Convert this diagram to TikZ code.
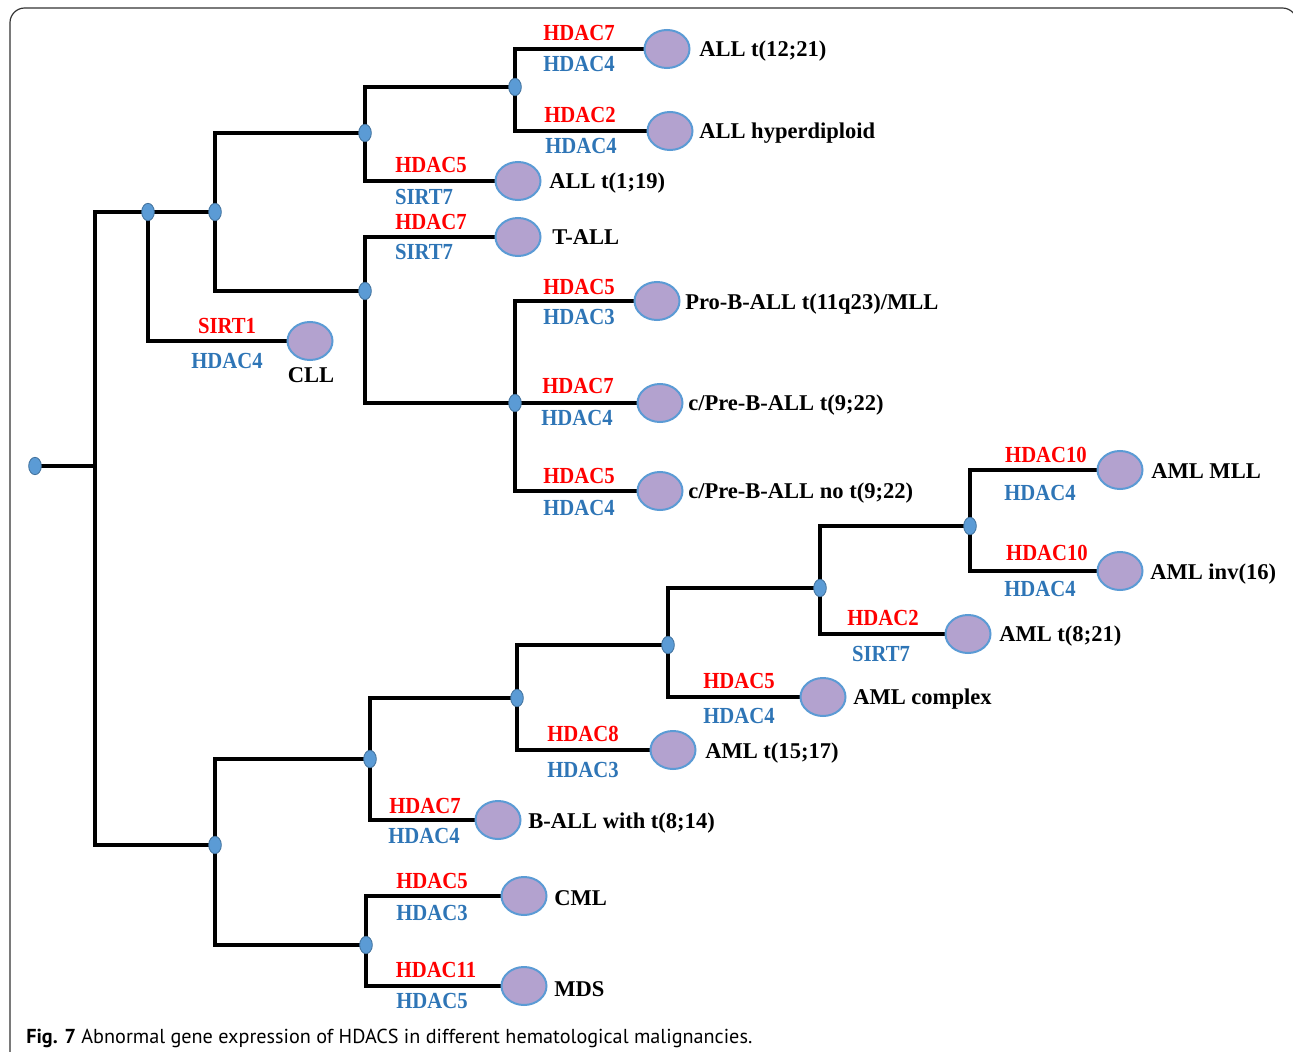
\documentclass[tikz,border=0pt]{standalone}
\usepackage{fontspec}
\setmainfont{Liberation Serif}
\newfontfamily\labf[FakeStretch=0.9]{Liberation Serif}
\newfontfamily\capf{PT Sans}
\usetikzlibrary{shapes.geometric,backgrounds}
\definecolor{redl}{HTML}{FF0000}
\definecolor{bluel}{HTML}{2E75B6}
\definecolor{ellfill}{HTML}{B3A2CF}
\definecolor{elledge}{HTML}{5B9BD5}
\definecolor{dotfill}{HTML}{5B9BD5}
\definecolor{dotedge}{HTML}{41719C}
\tikzset{
 leaf/.style={ellipse, draw=elledge, fill=ellfill, line width=1.5pt, minimum width=33.75pt, minimum height=28.5pt, inner sep=0pt},
 bdot/.style={ellipse, draw=dotedge, fill=dotfill, line width=0.6pt, minimum width=9.5pt, minimum height=13pt, inner sep=0pt},
 br/.style={line width=3.2pt, line join=miter, draw=black},
 dname/.style={anchor=base west, inner sep=0pt, font=\bfseries\fontsize{16.9pt}{20pt}\selectfont},
 redlab/.style={anchor=base, inner sep=0pt, text=redl, font=\labf\bfseries\fontsize{17.25pt}{20pt}\selectfont},
 bluelab/.style={anchor=base, inner sep=0pt, text=bluel, font=\labf\bfseries\fontsize{17.25pt}{20pt}\selectfont},
}
\begin{document}
\begin{tikzpicture}[x=0.75pt,y=-0.75pt]
\useasboundingbox (0,0) rectangle (1293,1052);
\begin{scope}
\clip (0,0) rectangle (1293,1052);
\draw[rounded corners=11pt, line width=0.9pt, black!80] (10,8) rectangle (1297,1080);
\end{scope}
% junction dots
\node[bdot] (r) at (35,466) {};
\coordinate (j0) at (95,466);
\node[bdot] (A) at (148,212) {};
\node[bdot] (B) at (215,212) {};
\node[bdot] (C) at (365,133) {};
\node[bdot] (D) at (365,291) {};
\node[bdot] (E) at (515,87) {};
\node[bdot] (F) at (515,403) {};
\node[bdot] (G) at (215,845) {};
\node[bdot] (H) at (370,759) {};
\node[bdot] (I) at (366,945) {};
\node[bdot] (J) at (517,698) {};
\node[bdot] (K) at (668,645) {};
\node[bdot] (M) at (820,588) {};
\node[bdot] (N) at (970,526) {};
% leaves
\node[leaf] (l1) at (667,49) {};
\node[leaf] (l2) at (670,131) {};
\node[leaf] (l3) at (518,181) {};
\node[leaf] (l4) at (518,237) {};
\node[leaf] (l5) at (310,341) {};
\node[leaf] (l6) at (657,301) {};
\node[leaf] (l7) at (660,403) {};
\node[leaf] (l8) at (660,491) {};
\node[leaf] (l9) at (1120,470) {};
\node[leaf] (l10) at (1120,571) {};
\node[leaf] (l11) at (968,634) {};
\node[leaf] (l12) at (823,697) {};
\node[leaf] (l13) at (673,750) {};
\node[leaf] (l14) at (498,820) {};
\node[leaf] (l15) at (524,896) {};
\node[leaf] (l16) at (524,986) {};
% branches
\begin{scope}[on background layer]
\draw[br] (r.center) -- (j0);
\draw[br] (j0) |- (A.center);
\draw[br] (j0) |- (G.center);
\draw[br] (A.center) -- (B.center);
\draw[br] (A.center) |- (l5.west);
\draw[br] (B.center) |- (C.center);
\draw[br] (B.center) |- (D.center);
\draw[br] (C.center) |- (E.center);
\draw[br] (C.center) |- (l3.west);
\draw[br] (E.center) |- (l1.west);
\draw[br] (E.center) |- (l2.west);
\draw[br] (D.center) |- (l4.west);
\draw[br] (D.center) |- (F.center);
\draw[br] (F.center) |- (l6.west);
\draw[br] (F.center) -- (l7.west);
\draw[br] (F.center) |- (l8.west);
\draw[br] (G.center) |- (H.center);
\draw[br] (G.center) |- (I.center);
\draw[br] (H.center) |- (J.center);
\draw[br] (H.center) |- (l14.west);
\draw[br] (J.center) |- (K.center);
\draw[br] (J.center) |- (l13.west);
\draw[br] (K.center) |- (M.center);
\draw[br] (K.center) |- (l12.west);
\draw[br] (M.center) |- (N.center);
\draw[br] (M.center) |- (l11.west);
\draw[br] (N.center) |- (l9.west);
\draw[br] (N.center) |- (l10.west);
\draw[br] (I.center) |- (l15.west);
\draw[br] (I.center) |- (l16.west);
\end{scope}
% disease names
\node[dname] (t1) at (699,57) {ALL t(12;21)};
\node[dname] (t2) at (699,139) {ALL hyperdiploid};
\node[dname] (t3) at (549,189) {ALL t(1;19)};
\node[dname] (t4) at (552,245) {T-ALL};
\node[dname, anchor=base] (t5) at (311,382) {CLL};
\node[dname] (t6) at (685,309) {Pro-B-ALL t(11q23)/MLL};
\node[dname] (t7) at (688,410) {c/Pre-B-ALL t(9;22)};
\node[dname] (t8) at (688,498) {c/Pre-B-ALL no t(9;22)};
\node[dname] (t9) at (1151,478) {AML MLL};
\node[dname] (t10) at (1150,579) {AML inv(16)};
\node[dname] (t11) at (999,641) {AML t(8;21)};
\node[dname] (t12) at (853,704) {AML complex};
\node[dname] (t13) at (705,758) {AML t(15;17)};
\node[dname] (t14) at (528,828) {B-ALL with t(8;14)};
\node[dname] (t15) at (554,905) {CML};
\node[dname] (t16) at (554,996) {MDS};
% enzyme labels
\node[redlab] (r1) at (579,41) {HDAC7};
\node[bluelab] (b1) at (579,72) {HDAC4};
\node[redlab] (r2) at (580,123) {HDAC2};
\node[bluelab] (b2) at (581,154) {HDAC4};
\node[redlab] (r3) at (431,173) {HDAC5};
\node[bluelab] (b3) at (424,205) {SIRT7};
\node[redlab] (r4) at (431,230) {HDAC7};
\node[bluelab] (b4) at (424,260) {SIRT7};
\node[redlab] (r5) at (227,333) {SIRT1};
\node[bluelab] (b5) at (227,368) {HDAC4};
\node[redlab] (r6) at (579,294) {HDAC5};
\node[bluelab] (b6) at (579,325) {HDAC3};
\node[redlab] (r7) at (578,393) {HDAC7};
\node[bluelab] (b7) at (577,425) {HDAC4};
\node[redlab] (r8) at (579,483) {HDAC5};
\node[bluelab] (b8) at (579,515) {HDAC4};
\node[redlab] (r9) at (1046,462) {HDAC10};
\node[bluelab] (b9) at (1040,500) {HDAC4};
\node[redlab] (r10) at (1047,560) {HDAC10};
\node[bluelab] (b10) at (1040,596) {HDAC4};
\node[redlab] (r11) at (883,625) {HDAC2};
\node[bluelab] (b11) at (881,661) {SIRT7};
\node[redlab] (r12) at (739,688) {HDAC5};
\node[bluelab] (b12) at (739,723) {HDAC4};
\node[redlab] (r13) at (583,741) {HDAC8};
\node[bluelab] (b13) at (583,777) {HDAC3};
\node[redlab] (r14) at (425,813) {HDAC7};
\node[bluelab] (b14) at (424,843) {HDAC4};
\node[redlab] (r15) at (432,888) {HDAC5};
\node[bluelab] (b15) at (432,920) {HDAC3};
\node[redlab] (r16) at (436,977) {HDAC11};
\node[bluelab] (b16) at (432,1008) {HDAC5};
% caption
\node[anchor=base west, inner sep=0pt] (cap) at (26,1043) {\resizebox{544.5pt}{!}{\capf\fontsize{17pt}{20pt}\selectfont\textbf{Fig. 7} Abnormal gene expression of HDACS in different hematological malignancies.}};
\end{tikzpicture}
\end{document}
